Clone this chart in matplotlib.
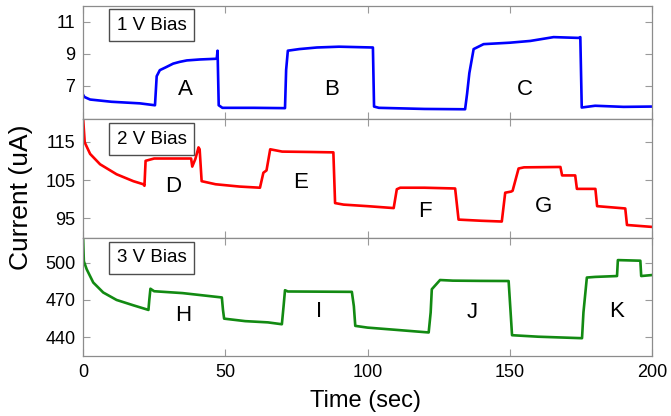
import matplotlib
matplotlib.use("Agg")
import matplotlib.pyplot as plt

plt.rcParams['font.family'] = ['Liberation Sans', 'DejaVu Sans']

# 1 V bias trace (blue)
t1 = [0, 0.5, 2.5, 10, 20, 25.3, 25.9, 27, 29, 31.7, 34, 36.5, 41.1, 46.4, 47.0, 47.3, 47.7, 49, 60,
      71.0, 71.4, 72, 76, 82.2, 90, 101.9, 102.3, 104, 120, 134.3, 135, 135.8, 137.3, 140.8, 150,
      157.2, 165.4, 174.2, 174.8, 175.3, 180, 190, 200]
i1 = [6.45, 6.3, 6.14, 6.0, 5.9, 5.78, 7.6, 7.98, 8.15, 8.39, 8.5, 8.59, 8.65, 8.69, 8.7, 9.2, 5.78, 5.62, 5.62,
      5.6, 8.0, 9.2, 9.3, 9.4, 9.45, 9.4, 5.7, 5.62, 5.55, 5.53, 6.5, 7.8, 9.3, 9.61, 9.7,
      9.81, 10.05, 10.0, 10.05, 5.64, 5.75, 5.68, 5.7]

# 2 V bias trace (red)
t2 = [0, 0.6, 2.5, 6, 11.8, 17.7, 21.2, 21.6, 22.0, 25, 38.0, 38.4, 39.5, 40.6, 41.0, 41.7, 46.6, 55, 62.2,
      63.4, 64.5, 65.8, 70, 80, 88, 88.6, 91.6, 100, 109.2, 110.3, 111.5, 120, 130.8, 132, 140, 147.2,
      148.4, 150.5, 151, 153.1, 155, 167.8, 168.4, 173, 173.6, 180.1, 180.7, 190.6, 191.2, 200]
i2 = [121.5, 114.8, 111.8, 109.1, 106.5, 104.7, 103.9, 103.5, 110, 110.6, 110.6, 108.5, 110.5, 113.5, 113, 104.7, 103.9, 103.3, 103,
      106.9, 107.5, 113, 112.4, 112.3, 112.2, 99, 98.6, 98.2, 97.7, 102.6, 103, 103, 102.8, 94.7, 94.4, 94.2,
      101.7, 102, 102.2, 108, 108.3, 108.4, 106.2, 106.2, 102.7, 102.7, 98.2, 97.6, 93.3, 92.8]

# 3 V bias trace (green)
t3 = [0, 0.3, 1.3, 3.6, 7.1, 11.8, 17.7, 23, 23.3, 23.7, 25, 35, 48.8, 49.2, 49.6, 57, 65, 69.9, 70.5,
      71.0, 72, 80, 94.5, 95.2, 95.7, 100, 110, 121.5, 122.2, 122.6, 125.5, 130, 140, 149.6, 150.3,
      150.8, 160, 175.4, 175.9, 177.1, 180, 187.7, 188.0, 195.9, 196.2, 200]
i3 = [522, 501, 494.6, 484, 476, 470, 465.7, 462, 470, 479, 477, 475.5, 472, 462, 455, 453, 452, 450.5, 465,
      477.8, 476.8, 476.7, 476.5, 465, 449.2, 447.8, 446, 443.9, 460, 478.6, 486, 485.5, 485.3, 485.2, 460,
      441.7, 440.5, 439.3, 460, 488, 488.5, 489.2, 502, 501.5, 489.2, 490]

bias_labels = ["1 V Bias", "2 V Bias", "3 V Bias"]
ylims = [(4.9, 12.0), (90, 120.8), (425, 520)]
yticks = [[7, 9, 11], [95, 105, 115], [440, 470, 500]]
colors = ['#0000ff', '#ff0000', '#128a12']

# letter annotations per panel: (name, time, current)
marks = [
    [("A", 36, 6.75), ("B", 87.5, 6.75), ("C", 155.4, 6.75)],
    [("D", 31.8, 103.4), ("E", 76.3, 104.3), ("F", 120.3, 96.8), ("G", 161.9, 98.2)],
    [("H", 35.1, 457.2), ("I", 82.8, 461), ("J", 136.7, 460), ("K", 187.7, 461)],
]

fig = plt.figure(figsize=(6.71, 4.16), dpi=100)
gs = fig.add_gridspec(3, 1, height_ratios=[113, 118, 118], hspace=0,
                      left=0.1237, right=0.9717, top=0.9856, bottom=0.1442)

traces = [(t1, i1), (t2, i2), (t3, i3)]
for k in range(3):
    ax = fig.add_subplot(gs[k])
    t, cur = traces[k]
    ax.plot(t, cur, color=colors[k], lw=1.9)
    ax.set_xlim(0, 200)
    ax.set_ylim(*ylims[k])
    ax.set_yticks(yticks[k])
    ax.set_xticks([0, 50, 100, 150, 200])
    for s in ax.spines.values():
        s.set_color('#8c8c8c')
        s.set_linewidth(0.9)
    ax.tick_params(direction='in', length=5, width=0.8, color='#9a9a9a',
                   top=True, right=True, labelsize=13, pad=5.5)
    if k < 2:
        ax.tick_params(labelbottom=False)
    ax.text(0.121, 0.83, bias_labels[k], transform=ax.transAxes, fontsize=13.5,
            ha='center', va='center',
            bbox=dict(boxstyle='square,pad=0.4', fc='white', ec='#4d4d4d', lw=1.0))
    for name, tx, ty in marks[k]:
        ax.text(tx, ty, name, fontsize=16, ha='center', va='center')

fig.text(0.545, 0.022, "Time (sec)", fontsize=17, ha='center', va='baseline')
fig.text(0.032, 0.525, "Current (uA)", fontsize=19, rotation=90, ha='center', va='center')

fig.savefig("out.png", dpi=100)
